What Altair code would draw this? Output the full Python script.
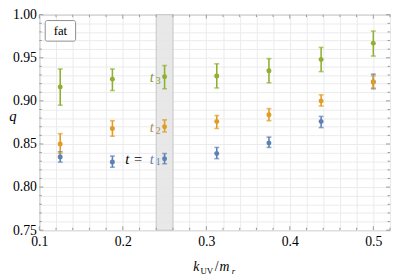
import altair as alt
import pandas as pd

# ---- data ----
k_over_m = [0.125, 0.1875, 0.25, 0.3125, 0.375, 0.4375, 0.5]

t1_q = [0.835, 0.829, 0.833, 0.839, 0.851, 0.876, 0.922]
t1_lo = [0.829, 0.823, 0.827, 0.833, 0.846, 0.869, 0.914]
t1_hi = [0.841, 0.836, 0.839, 0.846, 0.858, 0.882, 0.931]

t2_q = [0.850, 0.868, 0.870, 0.876, 0.884, 0.900, 0.922]
t2_lo = [0.839, 0.859, 0.864, 0.868, 0.877, 0.894, 0.915]
t2_hi = [0.862, 0.877, 0.878, 0.883, 0.891, 0.907, 0.929]

t3_q = [0.916, 0.925, 0.928, 0.929, 0.935, 0.948, 0.967]
t3_lo = [0.895, 0.912, 0.914, 0.915, 0.921, 0.934, 0.952]
t3_hi = [0.937, 0.937, 0.941, 0.943, 0.949, 0.962, 0.981]

series_names = ["t1", "t2", "t3"]
series_colors = ["#5E81B5", "#E19C24", "#8FB032"]

band_x = [0.24, 0.26]

x_major = [0.1, 0.2, 0.3, 0.4, 0.5]
x_minor = [0.12, 0.14, 0.16, 0.18, 0.22, 0.24, 0.26, 0.28, 0.32, 0.34, 0.36,
           0.38, 0.42, 0.44, 0.46, 0.48, 0.52]
y_major = [0.75, 0.80, 0.85, 0.90, 0.95, 1.00]
y_minor = [0.76, 0.77, 0.78, 0.79, 0.81, 0.82, 0.83, 0.84, 0.86, 0.87, 0.88,
           0.89, 0.91, 0.92, 0.93, 0.94, 0.96, 0.97, 0.98, 0.99]

W, H = 358, 220
FONT = "Liberation Serif, DejaVu Serif, serif"

rows = []
for name, qs, los, his in zip(series_names, [t1_q, t2_q, t3_q], [t1_lo, t2_lo, t3_lo], [t1_hi, t2_hi, t3_hi]):
    for x, q, lo, hi in zip(k_over_m, qs, los, his):
        rows.append({"k": x, "q": q, "lo": lo, "hi": hi, "series": name})
df = pd.DataFrame(rows)

xs = alt.Scale(domain=[0.1, 0.52], nice=False, zero=False)
ys = alt.Scale(domain=[0.75, 1.0], nice=False, zero=False)
cs = alt.Scale(domain=series_names, range=series_colors)

x_grid_vals = sorted(x_major + x_minor)
y_grid_vals = sorted(y_major + y_minor)

xaxis = alt.Axis(values=x_grid_vals, labelExpr="round(datum.value*50)%5==0 ? format(datum.value, '.1f') : ''",
                 title=None, tickSize=0, domain=False, labelOverlap=False, labelFlush=False,
                 labelFont=FONT, labelFontSize=14, labelColor="black", labelPadding=5,
                 gridColor="#EBEBEB", gridWidth=1)
yaxis = alt.Axis(values=y_grid_vals, labelExpr="round(datum.value*100)%5==0 ? format(datum.value, '.2f') : ''",
                 title=None, tickSize=0, domain=False, labelOverlap=False, labelFlush=False,
                 labelFont=FONT, labelFontSize=14, labelColor="black", labelPadding=3,
                 gridColor="#EBEBEB", gridWidth=1)


def X(f):
    return alt.X(f, scale=xs, axis=xaxis)


def Y(f):
    return alt.Y(f, scale=ys, axis=yaxis)


band = alt.Chart(pd.DataFrame({"x0": [band_x[0]], "x1": [band_x[1]]})).mark_rect(
    color="#E6E6E6", opacity=0.9, stroke="#C4C4C4", strokeWidth=1
).encode(x=X("x0:Q"), x2="x1:Q", y=alt.value(0), y2=alt.value(H))

base = alt.Chart(df)
col = alt.Color("series:N", scale=cs, legend=None)
bars = base.mark_rule(strokeWidth=1.6).encode(x=X("k:Q"), y=Y("lo:Q"), y2="hi:Q", color=col)
caps_lo = base.mark_tick(orient="horizontal", size=5, thickness=1.6).encode(x=X("k:Q"), y=Y("lo:Q"), color=col)
caps_hi = base.mark_tick(orient="horizontal", size=5, thickness=1.6).encode(x=X("k:Q"), y=Y("hi:Q"), color=col)
pts = base.mark_circle(size=26, opacity=1).encode(x=X("k:Q"), y=Y("q:Q"), color=col)

# frame ticks (inward)
tick_col = "#999999"
tick_layers = []
for vals, ln in [(x_major, 4), (x_minor, 2.5)]:
    d = pd.DataFrame({"v": vals})
    tick_layers.append(alt.Chart(d).mark_rule(color=tick_col).encode(
        x=X("v:Q"), y=alt.value(H), y2=alt.value(H - ln)))
    tick_layers.append(alt.Chart(d).mark_rule(color=tick_col).encode(
        x=X("v:Q"), y=alt.value(0), y2=alt.value(ln)))
for vals, ln in [(y_major, 4), (y_minor, 2.5)]:
    d = pd.DataFrame({"v": vals})
    tick_layers.append(alt.Chart(d).mark_rule(color=tick_col).encode(
        y=Y("v:Q"), x=alt.value(0), x2=alt.value(ln)))
    tick_layers.append(alt.Chart(d).mark_rule(color=tick_col).encode(
        y=Y("v:Q"), x=alt.value(W), x2=alt.value(W - ln)))

# series labels
lab_df = pd.DataFrame([
    {"k": 0.25, "q": t3_q[2], "t": "t", "s": "3", "c": "#7E9C3A"},
    {"k": 0.25, "q": t2_q[2], "t": "t", "s": "2", "c": "#A98F5A"},
    {"k": 0.25, "q": t1_q[2], "t": "t", "s": "1", "c": "#6381AE"},
])
lab_t = alt.Chart(lab_df).mark_text(font=FONT, fontSize=15, fontStyle="italic", align="right",
                                    baseline="middle", dx=-11).encode(
    x=X("k:Q"), y=Y("q:Q"), text="t:N", color=alt.Color("c:N", scale=None))
lab_s = alt.Chart(lab_df).mark_text(font=FONT, fontSize=10, align="right",
                                    baseline="middle", dx=-4, dy=4).encode(
    x=X("k:Q"), y=Y("q:Q"), text="s:N", color=alt.Color("c:N", scale=None))
lab_eq = alt.Chart(pd.DataFrame({"k": [0.25], "q": [t1_q[2]], "t": ["t ="]})).mark_text(
    font=FONT, fontSize=15, fontStyle="italic", align="right", baseline="middle", dx=-22, color="black"
).encode(x=X("k:Q"), y=Y("q:Q"), text="t:N")

# "fat" box
box = alt.Chart(pd.DataFrame({"a": [0]})).mark_rect(
    fill="white", stroke="#8C8C8C", strokeWidth=1, cornerRadius=2
).encode(x=alt.value(6), x2=alt.value(37), y=alt.value(6), y2=alt.value(27))
box_t = alt.Chart(pd.DataFrame({"t": ["fat"]})).mark_text(
    font=FONT, fontSize=13, color="black", align="center", baseline="middle"
).encode(x=alt.value(21.5), y=alt.value(16.5), text="t:N")

# axis titles
ttl = [
    {"t": "k", "x": 157, "y": 262, "fs": 14, "st": "italic"},
    {"t": "UV", "x": 164.5, "y": 265, "fs": 9, "st": "normal"},
    {"t": "/", "x": 179, "y": 262, "fs": 14, "st": "normal"},
    {"t": "m", "x": 184, "y": 262, "fs": 14, "st": "italic"},
    {"t": "r", "x": 196.5, "y": 265, "fs": 9, "st": "italic"},
]
title_layers = []
for r in ttl:
    title_layers.append(alt.Chart(pd.DataFrame({"t": [r["t"]]})).mark_text(
        font=FONT, fontSize=r["fs"], fontStyle=r["st"], align="left", baseline="alphabetic", color="black"
    ).encode(x=alt.value(r["x"]), y=alt.value(r["y"]), text="t:N"))
q_title = alt.Chart(pd.DataFrame({"t": ["q"]})).mark_text(
    font=FONT, fontSize=15, fontStyle="italic", align="center", baseline="alphabetic", color="black"
).encode(x=alt.value(-27), y=alt.value(109), text="t:N")

chart = alt.layer(
    band, *tick_layers, bars, caps_lo, caps_hi, pts,
    lab_t, lab_s, lab_eq, box, box_t, q_title, *title_layers
).properties(
    width=W, height=H, autosize=alt.AutoSizeParams(type="none"),
    padding={"left": 32, "top": 4, "right": 1, "bottom": 46}
).configure_view(stroke="#999999", strokeWidth=1)

chart.save("out.html", embed_options={"renderer": "svg", "actions": False})
